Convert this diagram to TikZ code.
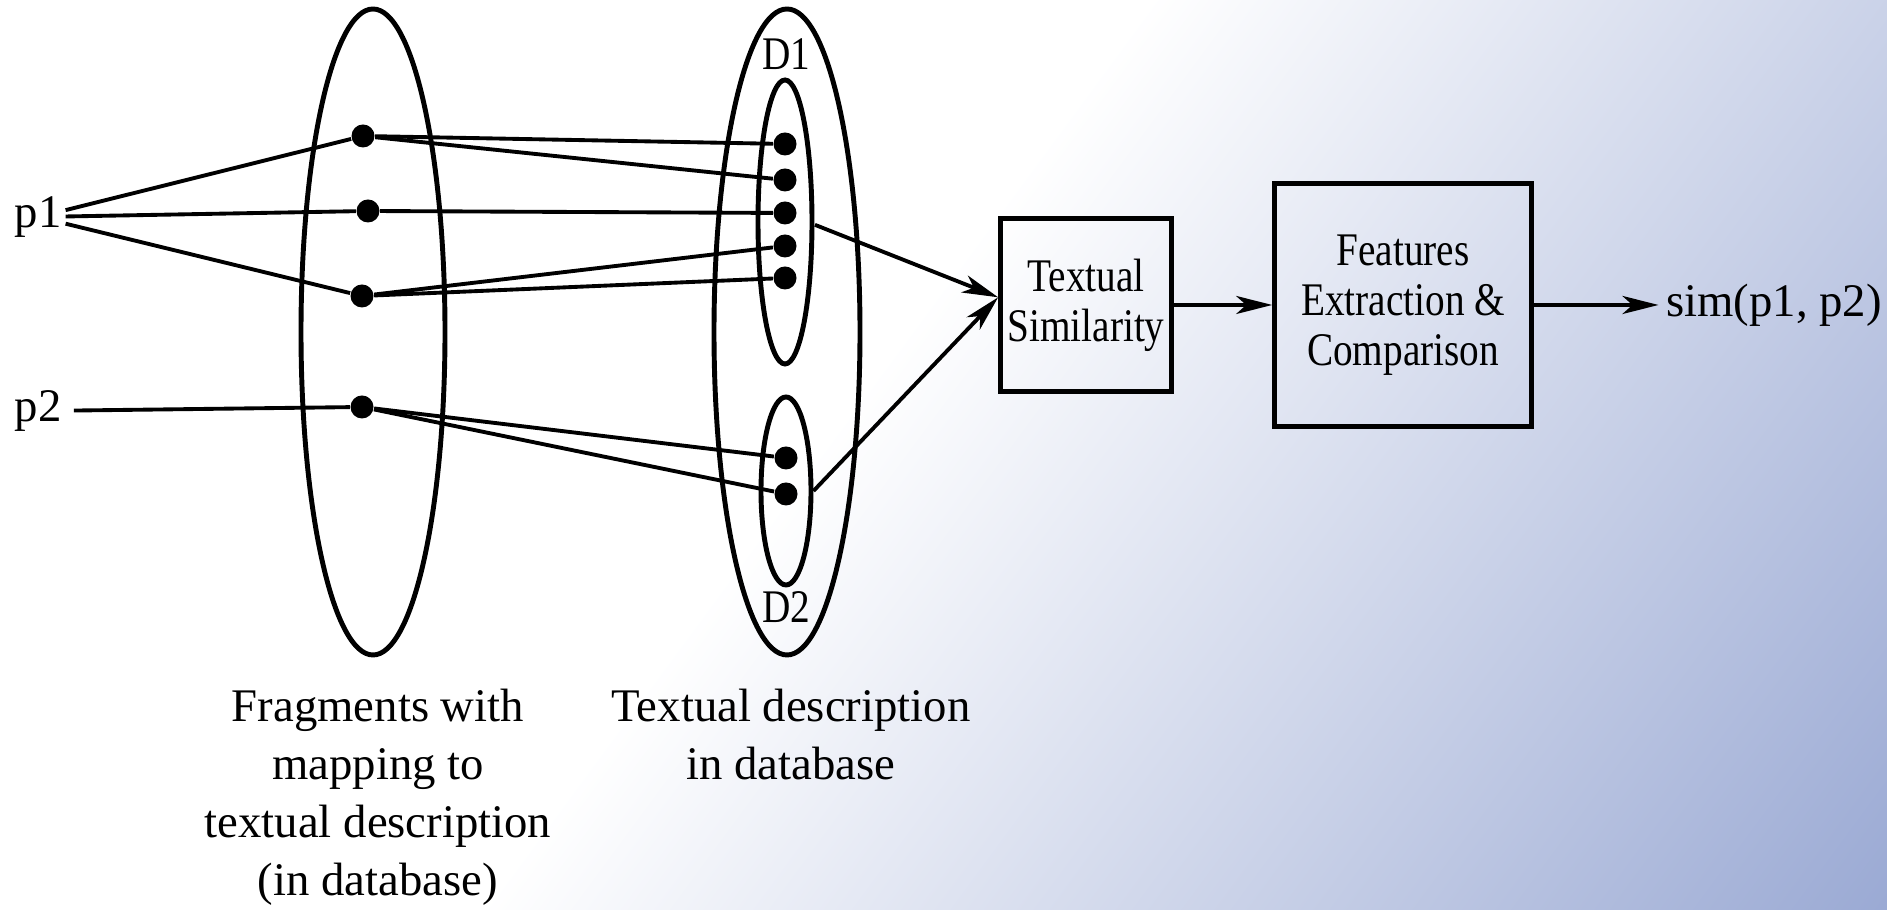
\documentclass[tikz,border=0pt]{standalone}
\usepackage{fontspec}
\setmainfont{Liberation Serif}
\newfontfamily\narrowfont[FakeStretch=0.84]{Liberation Serif}
\usetikzlibrary{shapes.geometric,arrows.meta}
\definecolor{bgblue}{RGB}{155,170,212}
\pgfdeclarehorizontalshading{bgshade}{100bp}{color(0bp)=(white); color(47.4bp)=(white); color(75.7bp)=(bgblue); color(100bp)=(bgblue)}
\begin{document}
\begin{tikzpicture}[
    font=\fontsize{13.3}{16.5}\selectfont,
    dot/.style={circle,fill,inner sep=0pt,minimum size=0.23cm},
    oval/.style={ellipse,draw,line width=1.4pt,inner sep=0pt},
    box/.style={draw,line width=1.3pt,align=center,inner sep=2pt,font=\narrowfont\fontsize{13.3}{14.2}\selectfont},
    link/.style={line width=1.1pt},
    arr/.style={line width=1.1pt,-{Stealth[length=0.36cm,width=0.18cm,inset=0.1cm]}}
  ]
  \begin{scope}
    \clip (0,0) rectangle (18.87,9.10);
    \shade[shading=bgshade,shading angle=-36.4] (-0.565,-5.45) rectangle (19.435,14.55);
  \end{scope}
  \useasboundingbox (0,0) rectangle (18.87,9.10);

  \node[oval,minimum width=1.44cm,minimum height=6.46cm] (frag) at (3.73,5.78) {};
  \node[oval,minimum width=1.46cm,minimum height=6.46cm] (desc) at (7.87,5.78) {};
  \node[oval,minimum width=0.54cm,minimum height=2.84cm] (d1) at (7.85,6.88) {};
  \node[oval,minimum width=0.50cm,minimum height=1.88cm] (d2) at (7.86,4.19) {};
  \node[font=\narrowfont\fontsize{13.3}{16.5}\selectfont] (d1lbl) at (7.86,8.56) {D1};
  \node[font=\narrowfont\fontsize{13.3}{16.5}\selectfont] (d2lbl) at (7.86,3.03) {D2};

  \node[inner sep=1pt] (p1) at (0.38,6.93) {p1};
  \node (p2) at (0.38,4.99) {p2};

  \node[dot] (f1) at (3.63,7.74) {};
  \node[dot] (f2) at (3.68,6.99) {};
  \node[dot] (f3) at (3.62,6.14) {};
  \node[dot] (f4) at (3.62,5.03) {};
  \foreach \y [count=\i] in {7.66,7.30,6.97,6.64,6.32}
    \node[dot] (r\i) at (7.85,\y) {};
  \foreach \y [count=\i] in {4.52,4.16}
    \node[dot] (s\i) at (7.86,\y) {};

  \node[box,minimum width=1.70cm,minimum height=1.73cm] (ts) at (10.86,6.05) {Textual\\Similarity};
  \node[box,minimum width=2.57cm,minimum height=2.43cm] (fe) at (14.03,6.05) {Features\\Extraction \&\\Comparison};
  \node[inner sep=2pt] (sim) at (17.74,6.05) {sim(p1, p2)};

  \node[align=center,anchor=north,inner sep=0pt] (fraglbl) at (3.78,2.22) {Fragments with\\mapping to\\textual description\\(in database)};
  \node[align=center,anchor=north,inner sep=0pt] (desclbl) at (7.91,2.22) {Textual description\\in database};

  \draw[link] (p1) -- (f1);
  \draw[link] (p1) -- (f2);
  \draw[link] (p1) -- (f3);
  \draw[link] (p2) -- (f4);
  \draw[link] (f1) -- (r1);
  \draw[link] (f1) -- (r2);
  \draw[link] (f2) -- (r3);
  \draw[link] (f3) -- (r4);
  \draw[link] (f3) -- (r5);
  \draw[link] (f4) -- (s1);
  \draw[link] (f4) -- (s2);

  \draw[arr,shorten <=0.2cm] (r3) -- (ts.175);
  \draw[arr] (d2.east) -- (ts.175);
  \draw[arr] (ts) -- (fe);
  \draw[arr] (fe) -- (sim);
\end{tikzpicture}
\end{document}
